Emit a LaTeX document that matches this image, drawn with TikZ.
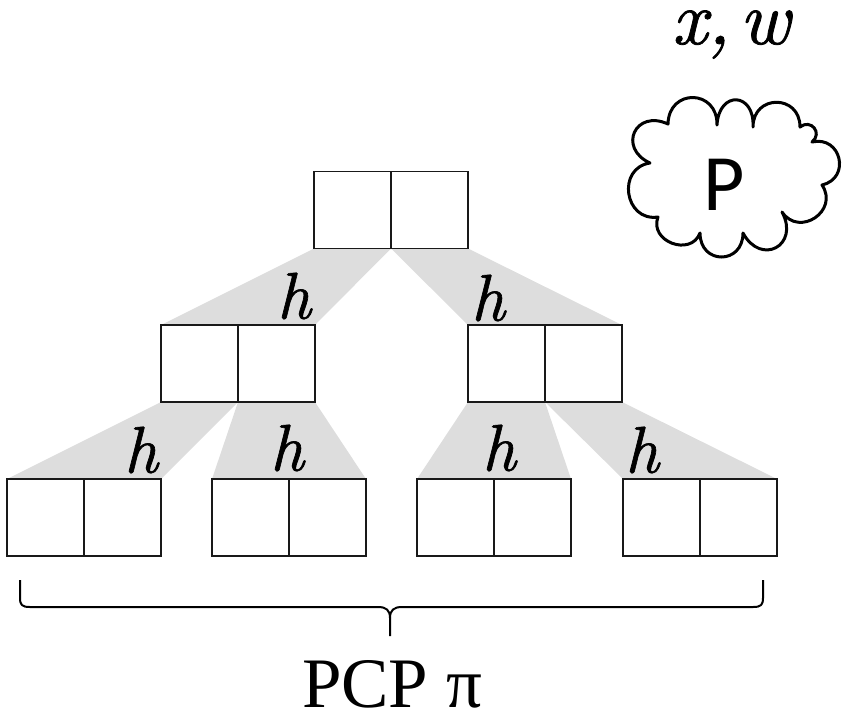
\documentclass[tikz,border=0pt]{standalone}
\usepackage{fontspec}
\newfontfamily\serifcap{Liberation Serif}
\newfontfamily\sanscap{Carlito}
\newfontfamily\varfont[FakeBold=1]{lmroman10-italic.otf}
\usetikzlibrary{calc}
\definecolor{linkgray}{RGB}{221,221,221}
\definecolor{boxline}{RGB}{25,25,25}
\tikzset{
  cell/.style={draw=boxline, line width=1.5pt, minimum width=77pt, minimum height=77pt, inner sep=0pt, outer sep=0pt, fill=white},
  link/.style={fill=linkgray, draw=none},
  hlab/.style={inner sep=0pt, font=\varfont\fontsize{66}{70}\selectfont},
  cloudline/.style={draw=black, line width=3pt, line join=round, line cap=round},
  braceline/.style={draw=black, line width=2pt, line join=round}
}
\begin{document}
\begin{tikzpicture}[x=1pt,y=-1pt]
\useasboundingbox (0,0) rectangle (846,721);

% cells
\node[cell] (t1) at (352.5,210) {};
\node[cell] (t2) at (429.5,210) {};
\node[cell] (a1) at (199.5,363.5) {};
\node[cell] (a2) at (276.5,363.5) {};
\node[cell] (b1) at (506.5,363.5) {};
\node[cell] (b2) at (583.5,363.5) {};
\node[cell] (c1) at (45.5,517.5) {};
\node[cell] (c2) at (122.5,517.5) {};
\node[cell] (d1) at (250.5,517.5) {};
\node[cell] (d2) at (327.5,517.5) {};
\node[cell] (e1) at (455.5,517.5) {};
\node[cell] (e2) at (532.5,517.5) {};
\node[cell] (f1) at (661.5,517.5) {};
\node[cell] (f2) at (738.5,517.5) {};

% gray links
\fill[link] (t1.south west) -- (t1.south east) -- (a2.north east) -- (a1.north west) -- cycle;
\fill[link] (t2.south west) -- (t2.south east) -- (b2.north east) -- (b1.north west) -- cycle;
\fill[link] (a1.south west) -- (a1.south east) -- (c2.north east) -- (c1.north west) -- cycle;
\fill[link] (a2.south west) -- (a2.south east) -- (d2.north east) -- (d1.north west) -- cycle;
\fill[link] (b1.south west) -- (b1.south east) -- (e2.north east) -- (e1.north west) -- cycle;
\fill[link] (b2.south west) -- (b2.south east) -- (f2.north east) -- (f1.north west) -- cycle;

% redraw cell borders on top
\foreach \n in {t1,t2,a1,a2,b1,b2,c1,c2,d1,d2,e1,e2,f1,f2}{
  \draw[draw=boxline, line width=1.5pt] (\n.south west) rectangle (\n.north east);
}

% h labels
\node[hlab] (h1) at (294,296) {h};
\node[hlab] (h2) at (488,298) {h};
\node[hlab] (h3) at (141,450) {h};
\node[hlab] (h4) at (287,448) {h};
\node[hlab] (h5) at (499,448) {h};
\node[hlab] (h6) at (642,450) {h};

% x, w
\node[anchor=base, inner sep=0pt, font=\varfont\fontsize{76}{80}\selectfont] (xw) at (731,44) {x,\hspace{0.12em}w};

% cloud
\coordinate (k1) at (650,163);
\coordinate (k2) at (668,124);
\coordinate (k3) at (717,125);
\coordinate (k4) at (753,127);
\coordinate (k5) at (800,127);
\coordinate (k6) at (812,142);
\coordinate (k7) at (822,185);
\coordinate (k8) at (782,212);
\coordinate (k9) at (743,233);
\coordinate (k10) at (700,233);
\coordinate (k11) at (658,217);
\draw[cloudline]
 (k1) .. controls ($(k1)!36pt!90:(k2)$) and ($(k2)!36pt!-90:(k1)$) .. (k2)
 .. controls ($(k2)!36pt!90:(k3)$) and ($(k3)!36pt!-90:(k2)$) .. (k3)
 .. controls ($(k3)!35pt!90:(k4)$) and ($(k4)!35pt!-90:(k3)$) .. (k4)
 .. controls ($(k4)!33pt!90:(k5)$) and ($(k5)!33pt!-90:(k4)$) .. (k5)
 .. controls ($(k5)!14pt!90:(k6)$) and ($(k6)!14pt!-90:(k5)$) .. (k6)
 .. controls ($(k6)!30pt!90:(k7)$) and ($(k7)!30pt!-90:(k6)$) .. (k7)
 .. controls ($(k7)!31pt!90:(k8)$) and ($(k8)!31pt!-90:(k7)$) .. (k8)
 .. controls ($(k8)!38pt!90:(k9)$) and ($(k9)!38pt!-90:(k8)$) .. (k9)
 .. controls ($(k9)!32pt!90:(k10)$) and ($(k10)!32pt!-90:(k9)$) .. (k10)
 .. controls ($(k10)!26pt!90:(k11)$) and ($(k11)!26pt!-90:(k10)$) .. (k11)
 .. controls ($(k11)!34pt!90:(k1)$) and ($(k1)!34pt!-90:(k11)$) .. (k1) -- cycle;
\node[anchor=base, inner sep=0pt, font=\sanscap\fontsize{80}{90}\selectfont] (p) at (724,210) {P};

% brace
\coordinate (bl) at (20,580);
\coordinate (br) at (763,580);
\coordinate (bm) at (390,636);
\draw[braceline] (bl) -- (20,598) .. controls (20,605) and (22,607) .. (30,607) -- (378,607) .. controls (386,607) and (390,610) .. (390,618) -- (bm);
\draw[braceline] (br) -- (763,598) .. controls (763,605) and (761,607) .. (753,607) -- (402,607) .. controls (394,607) and (390,610) .. (390,618);

\node[anchor=base, inner sep=0pt, font=\serifcap\fontsize{71}{80}\selectfont] (pcp) at (392,707) {PCP π};
\end{tikzpicture}
\end{document}
